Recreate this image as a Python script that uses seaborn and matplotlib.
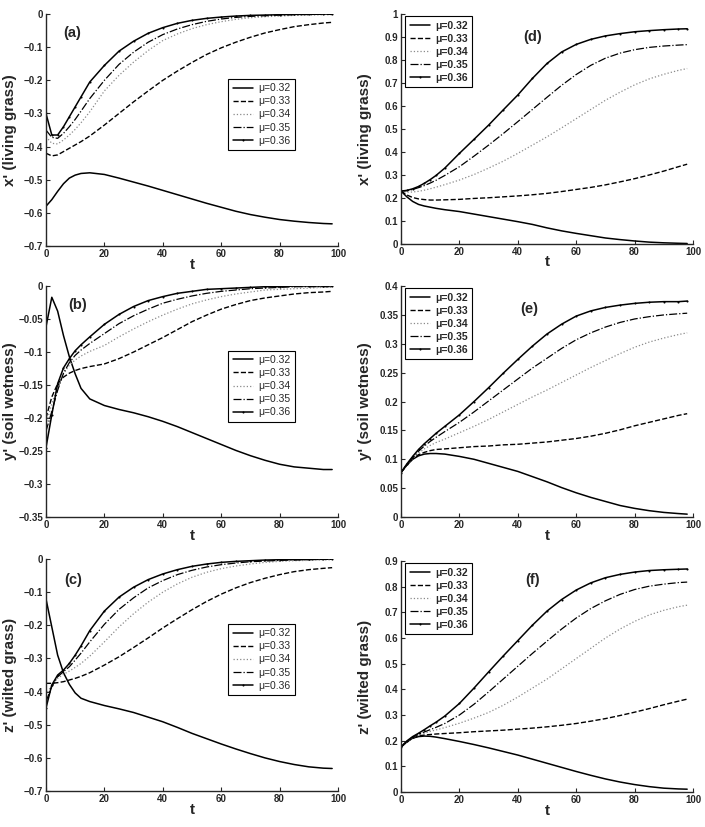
import numpy as np
import pandas as pd
import matplotlib
matplotlib.use('agg')
import matplotlib.pyplot as plt
from matplotlib.ticker import FuncFormatter, MultipleLocator
import seaborn as sns

sns.set_style('ticks')
plt.rcParams['font.family'] = ['Liberation Sans', 'DejaVu Sans']

t = [0, 2, 4, 6, 8, 10, 12, 15, 20, 25, 30, 35, 40, 45, 50, 55, 60, 65, 70, 75, 80, 85, 90, 95, 98]
mus = ['0.32', '0.33', '0.34', '0.35', '0.36']

# (a) x' living grass, upper panel
a_32 = [-0.58, -0.56, -0.535, -0.512, -0.495, -0.486, -0.481, -0.479, -0.484, -0.495, -0.507, -0.519, -0.532,
        -0.545, -0.558, -0.571, -0.583, -0.595, -0.605, -0.613, -0.62, -0.625, -0.629, -0.632, -0.633]
a_33 = [-0.42, -0.428, -0.425, -0.415, -0.405, -0.395, -0.385, -0.368, -0.335, -0.30, -0.265, -0.232, -0.20,
        -0.172, -0.146, -0.122, -0.102, -0.085, -0.07, -0.057, -0.047, -0.038, -0.032, -0.027, -0.025]
a_34 = [-0.37, -0.39, -0.392, -0.38, -0.365, -0.348, -0.328, -0.295, -0.232, -0.185, -0.145, -0.11, -0.08,
        -0.06, -0.044, -0.032, -0.023, -0.016, -0.011, -0.008, -0.006, -0.004, -0.003, -0.002, -0.002]
a_35 = [-0.35, -0.372, -0.375, -0.36, -0.34, -0.318, -0.293, -0.255, -0.2, -0.152, -0.115, -0.085, -0.062,
        -0.045, -0.032, -0.022, -0.015, -0.01, -0.007, -0.005, -0.003, -0.002, -0.001, -0.001, -0.001]
a_36 = [-0.30, -0.365, -0.365, -0.34, -0.31, -0.28, -0.25, -0.205, -0.155, -0.112, -0.082, -0.058, -0.041,
        -0.028, -0.019, -0.013, -0.009, -0.006, -0.004, -0.003, -0.002, -0.001, -0.001, 0.0, 0.0]

# (b) y' soil wetness
b_32 = [-0.062, -0.017, -0.038, -0.075, -0.107, -0.133, -0.155, -0.171, -0.181, -0.187, -0.192, -0.198, -0.205,
        -0.213, -0.222, -0.231, -0.24, -0.249, -0.257, -0.264, -0.27, -0.274, -0.276, -0.278, -0.278]
b_33 = [-0.20, -0.168, -0.148, -0.138, -0.132, -0.128, -0.125, -0.122, -0.118, -0.11, -0.1, -0.089, -0.078,
        -0.066, -0.054, -0.044, -0.035, -0.028, -0.022, -0.018, -0.015, -0.012, -0.01, -0.009, -0.008]
b_34 = [-0.21, -0.178, -0.152, -0.133, -0.12, -0.112, -0.106, -0.099, -0.09, -0.077, -0.065, -0.054, -0.044,
        -0.035, -0.027, -0.021, -0.016, -0.012, -0.009, -0.006, -0.005, -0.004, -0.003, -0.002, -0.002]
b_35 = [-0.22, -0.19, -0.158, -0.132, -0.116, -0.105, -0.097, -0.087, -0.072, -0.057, -0.045, -0.035, -0.026,
        -0.02, -0.015, -0.011, -0.008, -0.006, -0.004, -0.003, -0.002, -0.001, -0.001, -0.001, -0.001]
b_36 = [-0.245, -0.195, -0.148, -0.124, -0.11, -0.098, -0.089, -0.077, -0.058, -0.043, -0.031, -0.022, -0.016,
        -0.011, -0.008, -0.005, -0.004, -0.003, -0.002, -0.001, -0.001, 0.0, 0.0, 0.0, 0.0]

# (c) z' wilted grass
c_32 = [-0.12, -0.205, -0.29, -0.343, -0.378, -0.404, -0.42, -0.43, -0.442, -0.452, -0.463, -0.477, -0.491,
        -0.508, -0.526, -0.542, -0.558, -0.573, -0.587, -0.6, -0.611, -0.62, -0.627, -0.631, -0.632]
c_33 = [-0.375, -0.375, -0.373, -0.37, -0.365, -0.36, -0.354, -0.343, -0.32, -0.295, -0.267, -0.238, -0.208,
        -0.18, -0.153, -0.128, -0.106, -0.087, -0.071, -0.058, -0.047, -0.038, -0.032, -0.028, -0.026]
c_34 = [-0.41, -0.38, -0.36, -0.348, -0.338, -0.327, -0.315, -0.293, -0.25, -0.205, -0.165, -0.13, -0.1,
        -0.075, -0.055, -0.04, -0.029, -0.021, -0.015, -0.01, -0.007, -0.005, -0.004, -0.003, -0.002]
c_35 = [-0.43, -0.385, -0.355, -0.34, -0.325, -0.305, -0.284, -0.25, -0.197, -0.152, -0.117, -0.087, -0.065,
        -0.047, -0.034, -0.024, -0.017, -0.012, -0.008, -0.006, -0.004, -0.003, -0.002, -0.001, -0.001]
c_36 = [-0.45, -0.38, -0.35, -0.335, -0.315, -0.29, -0.262, -0.216, -0.157, -0.115, -0.085, -0.062, -0.045,
        -0.032, -0.022, -0.015, -0.01, -0.007, -0.005, -0.003, -0.002, -0.001, -0.001, 0.0, 0.0]

# (d) x' living grass, lower panel
d_32 = [0.23, 0.205, 0.185, 0.172, 0.165, 0.16, 0.155, 0.149, 0.141, 0.13, 0.119, 0.108, 0.097,
        0.085, 0.07, 0.057, 0.046, 0.036, 0.026, 0.019, 0.013, 0.008, 0.005, 0.003, 0.002]
d_33 = [0.23, 0.213, 0.202, 0.196, 0.193, 0.191, 0.191, 0.192, 0.194, 0.198, 0.201, 0.205, 0.209,
        0.214, 0.22, 0.228, 0.237, 0.246, 0.257, 0.27, 0.284, 0.3, 0.317, 0.336, 0.347]
d_34 = [0.23, 0.225, 0.226, 0.229, 0.234, 0.24, 0.247, 0.258, 0.278, 0.302, 0.33, 0.36, 0.394,
        0.43, 0.466, 0.505, 0.545, 0.585, 0.625, 0.66, 0.692, 0.718, 0.738, 0.755, 0.763]
d_35 = [0.23, 0.232, 0.237, 0.245, 0.254, 0.265, 0.277, 0.298, 0.336, 0.382, 0.43, 0.48, 0.532,
        0.585, 0.638, 0.69, 0.737, 0.777, 0.808, 0.83, 0.845, 0.855, 0.861, 0.865, 0.867]
d_36 = [0.23, 0.233, 0.24, 0.25, 0.264, 0.28, 0.298, 0.33, 0.394, 0.455, 0.517, 0.583, 0.648,
        0.72, 0.785, 0.835, 0.868, 0.89, 0.905, 0.915, 0.923, 0.928, 0.932, 0.935, 0.936]

# (e) y' soil wetness
e_32 = [0.077, 0.09, 0.1, 0.106, 0.109, 0.11, 0.11, 0.109, 0.105, 0.1, 0.093, 0.086, 0.079,
        0.07, 0.061, 0.051, 0.042, 0.034, 0.027, 0.02, 0.015, 0.011, 0.008, 0.006, 0.005]
e_33 = [0.077, 0.09, 0.101, 0.108, 0.112, 0.115, 0.117, 0.118, 0.12, 0.122, 0.123, 0.125, 0.126,
        0.128, 0.13, 0.133, 0.136, 0.14, 0.145, 0.151, 0.158, 0.164, 0.17, 0.176, 0.179]
e_34 = [0.077, 0.09, 0.102, 0.111, 0.118, 0.124, 0.129, 0.135, 0.146, 0.157, 0.169, 0.182, 0.195,
        0.208, 0.22, 0.233, 0.246, 0.259, 0.271, 0.283, 0.294, 0.303, 0.31, 0.316, 0.319]
e_35 = [0.077, 0.091, 0.103, 0.114, 0.123, 0.131, 0.138, 0.148, 0.164, 0.182, 0.201, 0.22, 0.239,
        0.258, 0.275, 0.292, 0.307, 0.319, 0.329, 0.337, 0.343, 0.347, 0.35, 0.352, 0.353]
e_36 = [0.077, 0.092, 0.105, 0.117, 0.127, 0.136, 0.145, 0.157, 0.177, 0.2, 0.224, 0.249, 0.273,
        0.296, 0.317, 0.334, 0.348, 0.357, 0.363, 0.367, 0.37, 0.372, 0.373, 0.373, 0.374]

# (f) z' wilted grass
f_32 = [0.175, 0.195, 0.21, 0.216, 0.218, 0.217, 0.214, 0.208, 0.197, 0.185, 0.172, 0.158, 0.144,
        0.128, 0.112, 0.096, 0.08, 0.065, 0.051, 0.039, 0.029, 0.021, 0.015, 0.012, 0.011]
f_33 = [0.175, 0.196, 0.21, 0.218, 0.222, 0.224, 0.226, 0.228, 0.231, 0.235, 0.238, 0.241, 0.245,
        0.249, 0.254, 0.26, 0.267, 0.276, 0.286, 0.298, 0.311, 0.325, 0.34, 0.354, 0.362]
f_34 = [0.175, 0.197, 0.212, 0.222, 0.229, 0.236, 0.242, 0.251, 0.268, 0.288, 0.31, 0.338, 0.37,
        0.405, 0.44, 0.48, 0.52, 0.56, 0.6, 0.635, 0.665, 0.69, 0.708, 0.722, 0.728]
f_35 = [0.175, 0.198, 0.214, 0.225, 0.234, 0.243, 0.252, 0.267, 0.3, 0.342, 0.39, 0.44, 0.49,
        0.54, 0.588, 0.635, 0.678, 0.715, 0.745, 0.77, 0.789, 0.802, 0.81, 0.816, 0.818]
f_36 = [0.175, 0.199, 0.216, 0.229, 0.243, 0.258, 0.272, 0.296, 0.345, 0.405, 0.468, 0.53, 0.59,
        0.65, 0.705, 0.75, 0.787, 0.815, 0.835, 0.848, 0.857, 0.863, 0.866, 0.868, 0.869]

styles = [dict(linestyle='-', color='black', lw=1.1),
          dict(linestyle='--', color='black', lw=1.0),
          dict(linestyle=':', color='#8a8a8a', lw=0.9),
          dict(linestyle='-.', color='black', lw=0.9),
          dict(linestyle='-', color='black', lw=1.1, marker='.', markersize=3,
               markeredgecolor='black', markerfacecolor='black', markeredgewidth=0)]

panels = [
    ('(a)', [a_32, a_33, a_34, a_35, a_36], "x' (living grass)", (-0.7, 0), 0.1, [0.0652, 0.7025, 0.4142, 0.2805],
     (0.09, 0.92), 'right'),
    ('(b)', [b_32, b_33, b_34, b_35, b_36], "y' (soil wetness)", (-0.35, 0), 0.05, [0.0652, 0.3748, 0.4142, 0.2793],
     (0.107, 0.92), 'right'),
    ('(c)', [c_32, c_33, c_34, c_35, c_36], "z' (wilted grass)", (-0.7, 0), 0.1, [0.0652, 0.0435, 0.4142, 0.2805],
     (0.093, 0.91), 'right'),
    ('(d)', [d_32, d_33, d_34, d_35, d_36], "x' (living grass)", (0, 1), 0.1, [0.5688, 0.705, 0.4142, 0.278],
     (0.45, 0.9), 'left'),
    ('(e)', [e_32, e_33, e_34, e_35, e_36], "y' (soil wetness)", (0, 0.4), 0.05, [0.5688, 0.3748, 0.4142, 0.2793],
     (0.44, 0.9), 'left'),
    ('(f)', [f_32, f_33, f_34, f_35, f_36], "z' (wilted grass)", (0, 0.9), 0.1, [0.5688, 0.0423, 0.4142, 0.2793],
     (0.45, 0.92), 'left'),
]


def fmt(v, pos):
    v = round(v, 6) + 0.0
    return ('%g' % v).replace('-', '\u2212')


fig = plt.figure(figsize=(7.05, 8.27), dpi=100)

for tag, series, ylab, ylim, step, rect, tagpos, legpos in panels:
    ax = fig.add_axes(rect)
    for mu, vals, st in zip(mus, series, styles):
        df = pd.DataFrame({'t': t, 'v': vals})
        sns.lineplot(data=df, x='t', y='v', ax=ax, label='\u03bc=' + mu, **st)
    ax.set_xlim(0, 100)
    ax.set_ylim(*ylim)
    ax.xaxis.set_major_locator(MultipleLocator(20))
    ax.yaxis.set_major_locator(MultipleLocator(step))
    ax.yaxis.set_major_formatter(FuncFormatter(fmt))
    ax.xaxis.set_major_formatter(FuncFormatter(fmt))
    sns.despine(ax=ax)
    for s in ['left', 'bottom']:
        ax.spines[s].set_linewidth(1.0)
    ax.tick_params(direction='in', length=3, width=0.8, labelsize=7, pad=2)
    for lab in ax.get_xticklabels() + ax.get_yticklabels():
        lab.set_fontweight('bold')
    ax.set_xlabel('t', fontsize=11, fontweight='bold')
    ax.set_ylabel(ylab, fontsize=11, fontweight='bold')
    ax.xaxis.set_label_coords(0.5, -0.05)
    ax.yaxis.set_label_coords(-0.1, 0.5)
    ax.text(tagpos[0], tagpos[1], tag, transform=ax.transAxes, fontsize=10.5, fontweight='bold',
            ha='center', va='center')
    if legpos == 'right':
        leg = ax.legend(loc='upper left', bbox_to_anchor=(0.625, 0.72), handlelength=2.0,
                        fancybox=False, edgecolor='black', framealpha=1, borderpad=0.4, labelspacing=0.3,
                        handletextpad=0.5, borderaxespad=0, prop={'size': 7.5})
    else:
        leg = ax.legend(loc='upper left', bbox_to_anchor=(0.015, 0.99), handlelength=2.0,
                        fancybox=False, edgecolor='black', framealpha=1, borderpad=0.4, labelspacing=0.3,
                        handletextpad=0.5, borderaxespad=0, prop={'weight': 'bold', 'size': 7.5})
    leg.get_frame().set_linewidth(0.8)

fig.savefig('out.png', dpi=100)
